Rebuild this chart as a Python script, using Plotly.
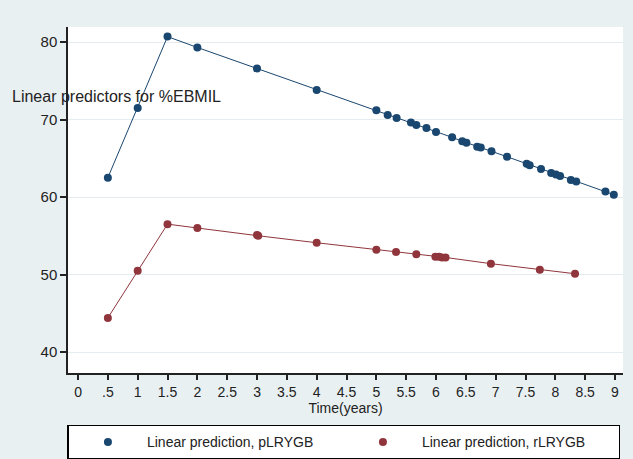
import plotly.graph_objects as go

# pLRYGB series
p_time = [0.5, 1, 1.5, 2, 3, 4, 5.0, 5.19, 5.34, 5.58, 5.67, 5.84, 6.0, 6.27, 6.44,
          6.51, 6.69, 6.75, 6.93, 7.19, 7.52, 7.57, 7.76, 7.93, 8.01, 8.08, 8.26,
          8.35, 8.84, 8.98]
p_pred = [62.5, 71.5, 80.7, 79.3, 76.6, 73.8, 71.2, 70.6, 70.2, 69.6, 69.3, 68.9,
          68.4, 67.7, 67.2, 67.0, 66.5, 66.4, 65.9, 65.2, 64.3, 64.1, 63.6, 63.1,
          62.9, 62.7, 62.2, 62.0, 60.7, 60.3]

# rLRYGB series
r_time = [0.5, 1, 1.5, 2, 3, 3.02, 4, 5, 5.33, 5.67, 5.99, 6.05, 6.1, 6.16, 6.92,
          7.74, 8.33]
r_pred = [44.4, 50.5, 56.5, 56.0, 55.1, 55.0, 54.1, 53.2, 52.9, 52.6, 52.3, 52.3,
          52.2, 52.2, 51.4, 50.6, 50.1]

x_ticks = [0, 0.5, 1, 1.5, 2, 2.5, 3, 3.5, 4, 4.5, 5, 5.5, 6, 6.5, 7, 7.5, 8, 8.5, 9]
x_tick_labels = ["0", ".5", "1", "1.5", "2", "2.5", "3", "3.5", "4", "4.5", "5",
                 "5.5", "6", "6.5", "7", "7.5", "8", "8.5", "9"]
y_ticks = [40, 50, 60, 70, 80]

series_names = ["Linear prediction, pLRYGB", "Linear prediction, rLRYGB"]
blue = "#1a476f"
red = "#90353b"
FONT = "Liberation Sans, Arial, sans-serif"

fig = go.Figure()
# connecting lines (no legend entry)
fig.add_trace(go.Scatter(x=p_time, y=p_pred, mode="lines", showlegend=False,
                         line=dict(color=blue, width=1), hoverinfo="skip"))
fig.add_trace(go.Scatter(x=r_time, y=r_pred, mode="lines", showlegend=False,
                         line=dict(color=red, width=1), hoverinfo="skip"))
# markers (legend shows markers only)
fig.add_trace(go.Scatter(x=p_time, y=p_pred, mode="markers", name=series_names[0],
                         marker=dict(color=blue, size=8, symbol="circle")))
fig.add_trace(go.Scatter(x=r_time, y=r_pred, mode="markers", name=series_names[1],
                         marker=dict(color=red, size=8, symbol="circle")))

fig.update_layout(
    width=633, height=459,
    margin=dict(l=68, r=10, t=27, b=86, autoexpand=False),
    paper_bgcolor="#e9f0f2",
    plot_bgcolor="white",
    font=dict(family=FONT, size=14, color="#222"),
    showlegend=True,
    legend=dict(
        orientation="h", x=-0.001, xanchor="left", y=-0.15, yanchor="top",
        bgcolor="white", bordercolor="black", borderwidth=1.5,
        entrywidth=192, entrywidthmode="pixels", itemwidth=68,
        font=dict(family=FONT, size=14, color="#222"),
        itemclick=False,
    ),
    xaxis=dict(
        range=[-0.168, 9.134], tickvals=x_ticks, ticktext=x_tick_labels,
        showgrid=False, zeroline=False,
        showline=True, linecolor="#222", linewidth=1.5,
        ticks="outside", ticklen=5, tickcolor="#222", tickwidth=1.5,
        title=dict(text="Time(years)", standoff=2, font=dict(size=14)),
    ),
    yaxis=dict(
        range=[37.29, 81.94], tickvals=y_ticks,
        showgrid=True, gridcolor="#e4ecef", gridwidth=1, zeroline=False,
        showline=True, linecolor="#222", linewidth=1.5,
        ticks="outside", ticklen=6, tickcolor="#222", tickwidth=1.5,
        tickfont=dict(size=15),
    ),
    annotations=[dict(
        text="Linear predictors for %EBMIL", xref="paper", yref="paper",
        x=-0.105, y=0.80, xanchor="left", yanchor="middle", showarrow=False,
        font=dict(family=FONT, size=16, color="#222"),
    )],
)

fig.write_html("out.html")
